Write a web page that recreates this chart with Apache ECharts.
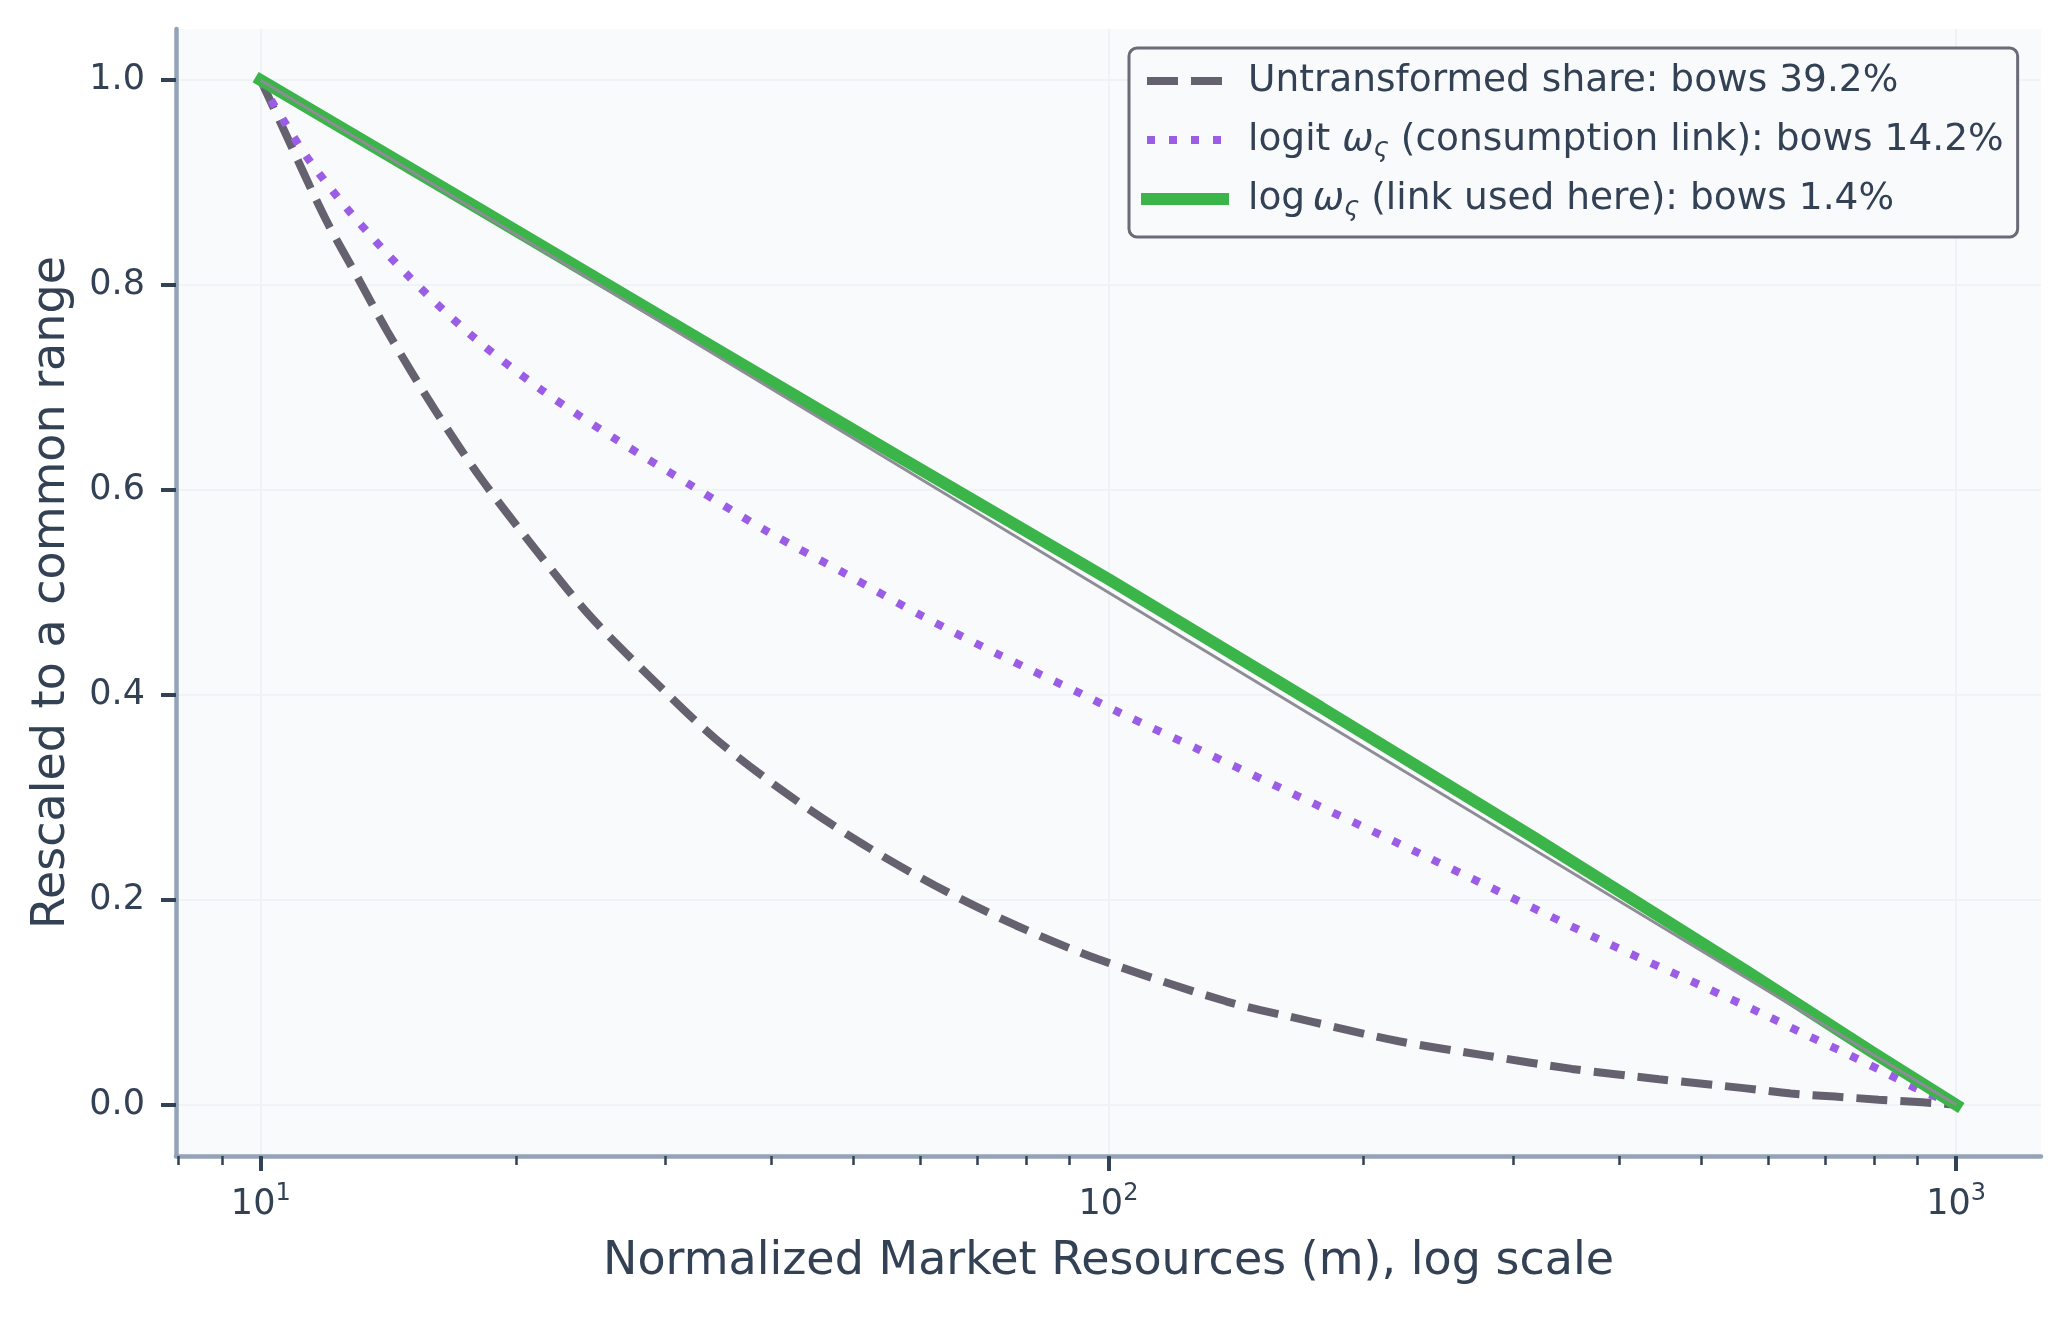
<!DOCTYPE html>
<html>
<head>
<meta charset="utf-8">
<script src="https://cdn.jsdelivr.net/npm/echarts@6/dist/echarts.min.js"></script>
<style>
  html, body { margin: 0; padding: 0; background: #ffffff; }
  #chart { width: 2069px; height: 1320px; }
</style>
</head>
<body>
<div id="chart"></div>
<script>
// values
const untransformedM = [10, 10.6, 11.9, 13.1, 14.1, 16.0, 18.2, 21.0, 24.4, 29.0, 34.3, 41.5, 50.7, 62.4, 77.8, 97.3, 137.6, 174, 220, 279, 352, 446, 565, 638, 719, 810, 912, 1000];
const untransformedV = [1.0, 0.955, 0.866, 0.803, 0.755, 0.680, 0.611, 0.544, 0.478, 0.415, 0.358, 0.305, 0.257, 0.214, 0.175, 0.142, 0.101, 0.081, 0.062, 0.048, 0.035, 0.025, 0.016, 0.011, 0.008, 0.005, 0.0024, 0.0];

const logitM = [10, 10.33, 10.67, 11.38, 12.75, 14.93, 17.78, 21.5, 26.3, 32.4, 39.5, 49.0, 60.3, 74.8, 92.9, 103.5, 127.6, 168.5, 220, 290.6, 380, 501, 590, 658, 733, 817, 908, 1000];
const logitV = [1.0, 0.978, 0.959, 0.923, 0.871, 0.809, 0.750, 0.697, 0.649, 0.603, 0.560, 0.518, 0.477, 0.438, 0.401, 0.382, 0.347, 0.300, 0.255, 0.207, 0.161, 0.116, 0.089, 0.070, 0.052, 0.033, 0.014, 0.0];

const logM = [10, 17.8, 31.6, 56.2, 100, 178, 316, 562, 794, 1000];
const logV = [1.0, 0.878, 0.756, 0.634, 0.513, 0.388, 0.262, 0.132, 0.052, 0.0];

// straight reference line (no bow)
const refM = [10, 1000];
const refV = [1.0, 0.0];

const seriesNames = [
  'Untransformed share: bows 39.2%',
  'logit ως (consumption link): bows 14.2%',
  'log ως (link used here): bows 1.4%'
];

const xMajorTicks = [10, 100, 1000];
const xMinorTicks = [8, 9, 20, 30, 40, 50, 60, 70, 80, 90, 200, 300, 400, 500, 600, 700, 800, 900];
const yTicks = [0, 0.2, 0.4, 0.6, 0.8, 1.0];

const FONT = 'DejaVu Sans';
const TXT = '#334155';

function pairs(xs, ys) {
  return xs.map(function (x, i) { return [x, ys[i]]; });
}

const chart = echarts.init(document.getElementById('chart'), null, { renderer: 'canvas' });

const legendText = {};
legendText[seriesNames[0]] = '{t|Untransformed share: bows 39.2%}';
legendText[seriesNames[1]] = '{t|logit }{w|ω}{s|ς}{t| (consumption link): bows 14.2%}';
legendText[seriesNames[2]] = '{t|log}{w|\u2009ω}{s|ς}{t| (link used here): bows 1.4%}';

const option = {
  backgroundColor: '#ffffff',
  animation: false,
  grid: {
    left: 176, right: 28, top: 29, bottom: 164,
    show: true, backgroundColor: '#f8fafc', borderWidth: 0,
    outerBoundsMode: 'none'
  },
  legend: {
    data: seriesNames,
    orient: 'vertical',
    left: 1129, top: 48,
    itemWidth: 76, itemHeight: 44, itemGap: 15,
    padding: [11, 14, 16, 12],
    backgroundColor: '#f9fafc',
    borderColor: '#6b6a77', borderWidth: 3, borderRadius: 8,
    selectedMode: false,
    itemStyle: { opacity: 0, borderWidth: 0 },
    lineStyle: { width: 'inherit', type: 'inherit', cap: 'inherit' },
    formatter: function (name) { return legendText[name]; },
    textStyle: {
      fontFamily: FONT, fontSize: 37.5, color: TXT, lineHeight: 44,
      padding: [0, 0, 0, 20],
      rich: {
        t: { fontFamily: FONT, fontSize: 37.5, color: TXT, lineHeight: 44 },
        w: { fontFamily: FONT, fontSize: 37.5, color: TXT, lineHeight: 44, fontStyle: 'italic' },
        s: { fontFamily: FONT, fontSize: 26, color: TXT, lineHeight: 44, fontStyle: 'italic', padding: [18, 0, 0, 0] }
      }
    }
  },
  xAxis: [
    {
      type: 'log', logBase: 10, position: 'bottom',
      min: Math.pow(10, 0.9), max: Math.pow(10, 3.1),
      name: 'Normalized Market Resources (m), log scale',
      nameLocation: 'middle', nameGap: 83,
      nameTextStyle: { fontFamily: FONT, fontSize: 46, color: TXT },
      axisLine: { show: true, onZero: false, lineStyle: { color: '#94a3b8', width: 4.5 } },
      axisTick: { show: true, inside: false, length: 15, customValues: xMajorTicks, lineStyle: { color: TXT, width: 4 } },
      axisLabel: {
        show: true, margin: 29, customValues: xMajorTicks,
        formatter: function (v) {
          return '{b|10}{e|' + Math.round(Math.log10(v)) + '}';
        },
        rich: {
          b: { fontFamily: FONT, fontSize: 35, color: TXT, lineHeight: 40 },
          e: { fontFamily: FONT, fontSize: 24, color: TXT, lineHeight: 40, padding: [0, 0, 22, 0] }
        }
      },
      splitLine: { show: true, lineStyle: { color: '#eff2f6', width: 2 } },
      minorTick: { show: false },
      minorSplitLine: { show: false }
    },
    {
      type: 'log', logBase: 10, position: 'bottom',
      min: Math.pow(10, 0.9), max: Math.pow(10, 3.1),
      axisLine: { show: false, onZero: false },
      axisTick: { show: true, inside: false, length: 9, customValues: xMinorTicks, lineStyle: { color: TXT, width: 2.5 } },
      axisLabel: { show: false },
      splitLine: { show: false }
    }
  ],
  yAxis: {
    type: 'value',
    min: -0.05, max: 1.05,
    name: 'Rescaled to a common range',
    nameLocation: 'middle', nameGap: 101, nameRotate: 90,
    nameTextStyle: { fontFamily: FONT, fontSize: 46, color: TXT },
    axisLine: { show: true, onZero: false, lineStyle: { color: '#94a3b8', width: 4.5 } },
    axisTick: { show: true, inside: false, length: 15, customValues: yTicks, lineStyle: { color: TXT, width: 4 } },
    axisLabel: {
      show: true, margin: 31, customValues: yTicks,
      fontFamily: FONT, fontSize: 35, color: TXT,
      formatter: function (v) { return v.toFixed(1); }
    },
    splitLine: { show: true, lineStyle: { color: '#eff2f6', width: 2 } }
  },
  series: [
    {
      name: seriesNames[0], type: 'line', xAxisIndex: 0,
      data: pairs(untransformedM, untransformedV),
      showSymbol: false, symbol: 'none', z: 2,
      smooth: 0.3,
      lineStyle: { color: '#65616f', width: 8, type: [31, 13], cap: 'butt' }
    },
    {
      name: seriesNames[1], type: 'line', xAxisIndex: 0,
      data: pairs(logitM, logitV),
      showSymbol: false, symbol: 'none', z: 3,
      smooth: 0.3,
      lineStyle: { color: '#9b5de5', width: 8, type: [8, 14], cap: 'butt' }
    },
    {
      name: seriesNames[2], type: 'line', xAxisIndex: 0,
      data: pairs(logM, logV),
      showSymbol: false, symbol: 'none', z: 4,
      lineStyle: { color: '#3bb44a', width: 12, type: 'solid', cap: 'square' }
    },
    {
      name: 'reference', type: 'line', xAxisIndex: 0,
      data: pairs(refM, refV),
      showSymbol: false, symbol: 'none', z: 5,
      lineStyle: { color: '#8e8c96', width: 2.8, type: 'solid' }
    }
  ]
};

chart.setOption(option);
</script>
</body>
</html>
